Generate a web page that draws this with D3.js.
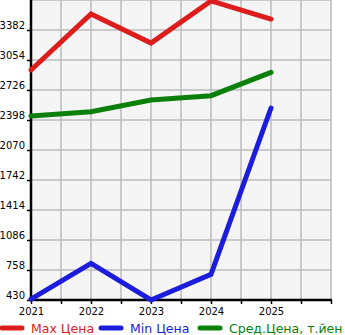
<!DOCTYPE html>
<html>
<head>
<meta charset="utf-8">
<script src="https://cdn.jsdelivr.net/npm/d3@7"></script>
<style>
  body { margin: 0; background: #fff; }
  svg { display: block; font-family: "DejaVu Sans", sans-serif; }
</style>
</head>
<body>
<svg width="345" height="335"></svg>
<script>
var years = [2021, 2022, 2023, 2024, 2025];
var maxPrice = [2945, 3557, 3240, 3700, 3502];
var minPrice = [440, 831, 430, 711, 2529];
var avgPrice = [2442, 2489, 2617, 2664, 2919];
var yTicks = [430, 758, 1086, 1414, 1742, 2070, 2398, 2726, 3054, 3382];
var seriesNames = ["Max Цена", "Min Цена", "Сред.Цена, т.йен"];
var seriesColors = ["#dd1c1c", "#1c1cdd", "#0a800a"];

var svg = d3.select("svg");
var pLeft = 31, pRight = 331, pTop = 0, pBottom = 300;

var x = d3.scaleLinear().domain([2021, 2026]).range([pLeft, pRight]);
var y = d3.scaleLinear().domain([430, 3710]).range([pBottom, pTop]);

// plot background
svg.append("rect")
    .attr("x", pLeft).attr("y", pTop)
    .attr("width", pRight - pLeft).attr("height", pBottom - pTop)
    .attr("fill", "#f5f5f5");

// grid
var xGrid = d3.range(2021, 2026.01, 0.5);
svg.append("g").selectAll("line").data(xGrid).enter().append("line")
    .attr("x1", function(d) { return x(d); })
    .attr("x2", function(d) { return x(d); })
    .attr("y1", pTop).attr("y2", pBottom)
    .attr("stroke", "#bbb").attr("stroke-width", 1.5);
svg.append("g").selectAll("line").data(yTicks.concat([3710])).enter().append("line")
    .attr("x1", pLeft).attr("x2", pRight)
    .attr("y1", function(d) { return y(d); })
    .attr("y2", function(d) { return y(d); })
    .attr("stroke", "#bbb").attr("stroke-width", 1.5);

// axes
var yAxis = d3.axisLeft(y).tickValues(yTicks).tickSize(4).tickPadding(2)
    .tickFormat(d3.format("d"));
var gy = svg.append("g").attr("transform", "translate(" + pLeft + ",0)").call(yAxis);
gy.select(".domain").remove();
gy.selectAll("text").attr("font-size", 10).attr("fill", "#000")
    .attr("dy", "-0.2em").attr("font-family", "DejaVu Sans");
gy.selectAll("line").attr("stroke-width", 1.5);

var xAxis = d3.axisBottom(x).tickValues(xGrid).tickSize(4).tickPadding(4)
    .tickFormat(function(d) { return (d % 1 === 0 && d < 2026) ? d : ""; });
var gx = svg.append("g").attr("transform", "translate(0," + pBottom + ")").call(xAxis);
gx.select(".domain").remove();
gx.selectAll("text").attr("font-size", 10).attr("fill", "#000").attr("font-family", "DejaVu Sans");
gx.selectAll("line").attr("stroke-width", 1.5);

svg.append("line").attr("x1", pLeft).attr("x2", pLeft).attr("y1", pTop).attr("y2", pBottom + 1)
    .attr("stroke", "#000").attr("stroke-width", 2.5);
svg.append("line").attr("x1", pLeft).attr("x2", pRight + 1).attr("y1", pBottom).attr("y2", pBottom)
    .attr("stroke", "#000").attr("stroke-width", 2.5);

// lines
var line = d3.line()
    .x(function(d, i) { return x(years[i]); })
    .y(function(d) { return y(d); });
[maxPrice, minPrice, avgPrice].forEach(function(s, i) {
    svg.append("path").datum(s)
        .attr("d", line)
        .attr("fill", "none")
        .attr("stroke", seriesColors[i])
        .attr("stroke-width", 5)
        .attr("stroke-linecap", "round")
        .attr("stroke-linejoin", "miter");
});

// legend
var legendX = [0, 99, 198];
var lg = svg.append("g");
seriesNames.forEach(function(n, i) {
    lg.append("line")
        .attr("x1", legendX[i] + 2).attr("x2", legendX[i] + 22)
        .attr("y1", 328).attr("y2", 328)
        .attr("stroke", seriesColors[i]).attr("stroke-width", 5)
        .attr("stroke-linecap", "round");
    lg.append("text")
        .attr("x", legendX[i] + 31).attr("y", 333)
        .attr("font-size", 12.5)
        .attr("fill", seriesColors[i])
        .text(n);
});
</script>
</body>
</html>
